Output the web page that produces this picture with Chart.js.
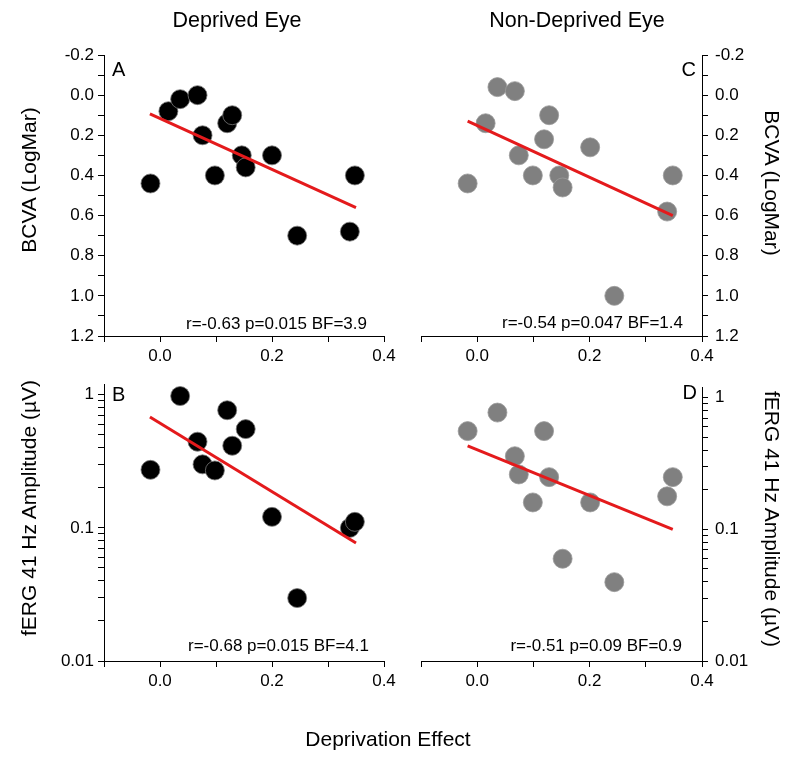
<!DOCTYPE html>
<html>
<head>
<meta charset="utf-8">
<script src="https://cdn.jsdelivr.net/npm/chart.js@4.4.0/dist/chart.umd.min.js"></script>
<style>
  body { margin: 0; background: #fff; }
  #wrap { position: relative; width: 800px; height: 761px; font-family: "Liberation Sans", Arial, sans-serif; color: #000; }
  canvas { position: absolute; }
  .txt { position: absolute; white-space: nowrap; line-height: 1; }
  .col { font-size: 21.5px; transform: translateX(-50%); }
  .letter { font-size: 20px; }
  .stat { font-size: 17px; }
  .ytitle { font-size: 21px; }
</style>
</head>
<body>
<div id="wrap">
  <canvas id="cA" width="400" height="380" style="left:0;top:0"></canvas>
  <canvas id="cC" width="400" height="380" style="left:400px;top:0"></canvas>
  <canvas id="cB" width="400" height="391" style="left:0;top:370px"></canvas>
  <canvas id="cD" width="400" height="391" style="left:400px;top:370px"></canvas>

  <div class="txt col" style="left:237px;top:10px">Deprived Eye</div>
  <div class="txt col" style="left:577px;top:10px">Non-Deprived Eye</div>
  <div class="txt col" style="left:388px;top:728px;font-size:21px">Deprivation Effect</div>

  <div class="txt ytitle" style="left:28px;top:180px;transform:translate(-50%,-50%) rotate(-90deg)">BCVA (LogMar)</div>
  <div class="txt ytitle" style="left:28px;top:508px;transform:translate(-50%,-50%) rotate(-90deg)">fERG 41 Hz Amplitude (µV)</div>
  <div class="txt ytitle" style="left:772px;top:183px;transform:translate(-50%,-50%) rotate(90deg)">BCVA (LogMar)</div>
  <div class="txt ytitle" style="left:772px;top:519px;transform:translate(-50%,-50%) rotate(90deg)">fERG 41 Hz Amplitude (µV)</div>

  <div class="txt letter" style="left:112px;top:59px">A</div>
  <div class="txt letter" style="left:112px;top:384px">B</div>
  <div class="txt letter" style="right:104px;top:59px">C</div>
  <div class="txt letter" style="right:103px;top:382px">D</div>

  <div class="txt stat" style="right:433px;top:315px">r=-0.63 p=0.015 BF=3.9</div>
  <div class="txt stat" style="right:117px;top:314px">r=-0.54 p=0.047 BF=1.4</div>
  <div class="txt stat" style="right:431px;top:637px">r=-0.68 p=0.015 BF=4.1</div>
  <div class="txt stat" style="right:118px;top:637px">r=-0.51 p=0.09 BF=0.9</div>
</div>
<script>
// panel A: deprived eye, BCVA
const effectA = [-0.017, 0.015, 0.036, 0.067, 0.076, 0.098, 0.120, 0.129, 0.146, 0.153, 0.200, 0.245, 0.339, 0.348];
const bcvaDeprived = [0.44, 0.08, 0.02, 0.00, 0.20, 0.40, 0.14, 0.10, 0.30, 0.36, 0.30, 0.70, 0.68, 0.40];
const fitAx = [-0.018, 0.350];
const fitAy = [0.093, 0.56];

// panel C: non-deprived eye, BCVA
const effectC = [-0.017, 0.015, 0.036, 0.067, 0.074, 0.099, 0.119, 0.128, 0.146, 0.152, 0.201, 0.244, 0.338, 0.348];
const bcvaFellow = [0.44, 0.14, -0.04, -0.02, 0.30, 0.40, 0.22, 0.10, 0.40, 0.46, 0.26, 1.00, 0.58, 0.40];
const fitCx = [-0.017, 0.348];
const fitCy = [0.13, 0.60];

// panel B: deprived eye, fERG amplitude
const effectB = [-0.017, 0.036, 0.067, 0.076, 0.098, 0.120, 0.129, 0.153, 0.200, 0.245, 0.339, 0.348];
const fergDeprived = [0.273, 0.978, 0.444, 0.30, 0.27, 0.765, 0.414, 0.552, 0.121, 0.0297, 0.10, 0.111];
const fitBx = [-0.018, 0.350];
const fitBy = [0.68, 0.077];

// panel D: non-deprived eye, fERG amplitude
const effectD = [-0.017, 0.036, 0.067, 0.074, 0.099, 0.119, 0.128, 0.152, 0.201, 0.244, 0.338, 0.348];
const fergFellow = [0.557, 0.77, 0.359, 0.261, 0.16, 0.557, 0.249, 0.0598, 0.16, 0.0397, 0.178, 0.249];
const fitDx = [-0.017, 0.348];
const fitDy = [0.43, 0.10];

const logTicks = [0.01, 0.02, 0.03, 0.04, 0.05, 0.06, 0.07, 0.08, 0.09,
                  0.1, 0.2, 0.3, 0.4, 0.5, 0.6, 0.7, 0.8, 0.9, 1];
const logLabels = [0.01, 0.1, 1];

const RED = 'rgb(228, 26, 28)';
Chart.defaults.font.family = "'Liberation Sans', Arial, sans-serif";
Chart.defaults.color = '#000';

const even = v => Math.round(v * 10) % 2 === 0;
// round and drop the sign of zero so the label reads 0.0
const fmt = v => (Math.round(v * 10) / 10 + 0).toFixed(1);

function pts(xs, ys) {
  return xs.map((x, i) => ({ x: x, y: ys[i] }));
}

function makePanel(id, o) {
  const tickGrid = { display: true, drawOnChartArea: false, drawTicks: true, tickLength: 6, color: '#000', lineWidth: 1 };
  const border = { display: true, color: '#000', width: 1 };
  let y;
  if (o.log) {
    y = {
      type: 'logarithmic', min: 0.01, max: 1.2,
      afterBuildTicks: s => { s.ticks = logTicks.map(v => ({ value: v })); },
      ticks: { autoSkip: false, font: { size: 17 }, padding: o.right ? 7 : 4,
               callback: v => logLabels.includes(v) ? String(v) : '' }
    };
  } else {
    y = {
      type: 'linear', min: -0.2, max: 1.2, reverse: true,
      ticks: { stepSize: 0.1, autoSkip: false, font: { size: 17 }, padding: o.right ? 7 : 4,
               callback: v => even(v) ? fmt(v) : '' }
    };
  }
  y.position = o.right ? 'right' : 'left';
  y.grid = tickGrid;
  y.border = border;
  y.afterFit = s => { s.width = o.right ? 98 : 104; };

  const x = {
    type: 'linear', min: -0.1, max: 0.4, position: 'bottom',
    grid: tickGrid, border: border,
    ticks: { stepSize: 0.1, autoSkip: false, maxRotation: 0, font: { size: 17 }, padding: 4,
             callback: v => even(v) ? fmt(v) : '' },
    afterFit: s => { s.height = o.xh; }
  };

  return new Chart(document.getElementById(id), {
    type: 'scatter',
    data: {
      datasets: [
        { data: pts(o.fx, o.fy), showLine: true, borderColor: RED, borderWidth: 3,
          pointRadius: 0, order: 0 },
        { data: pts(o.xs, o.ys), backgroundColor: o.color, borderColor: o.edge,
          borderWidth: 0.8, pointRadius: 9.5, order: 1 }
      ]
    },
    options: {
      responsive: false,
      animation: false,
      layout: { padding: o.pad },
      plugins: { legend: { display: false }, tooltip: { enabled: false } },
      scales: { x: x, y: y }
    }
  });
}

makePanel('cA', { xs: effectA, ys: bcvaDeprived, fx: fitAx, fy: fitAy, color: '#000', edge: '#777',
  right: false, log: false, xh: 44, pad: { top: 55, left: 0, right: 16, bottom: 0 } });
makePanel('cC', { xs: effectC, ys: bcvaFellow, fx: fitCx, fy: fitCy, color: '#808080', edge: '#9a9a9a',
  right: true, log: false, xh: 44, pad: { top: 55, left: 21, right: 0, bottom: 0 } });
makePanel('cB', { xs: effectB, ys: fergDeprived, fx: fitBx, fy: fitBy, color: '#000', edge: '#777',
  right: false, log: true, xh: 100, pad: { top: 12, left: 0, right: 16, bottom: 0 } });
makePanel('cD', { xs: effectD, ys: fergFellow, fx: fitDx, fy: fitDy, color: '#808080', edge: '#9a9a9a',
  right: true, log: true, xh: 100, pad: { top: 12, left: 21, right: 0, bottom: 0 } });
</script>
</body>
</html>
